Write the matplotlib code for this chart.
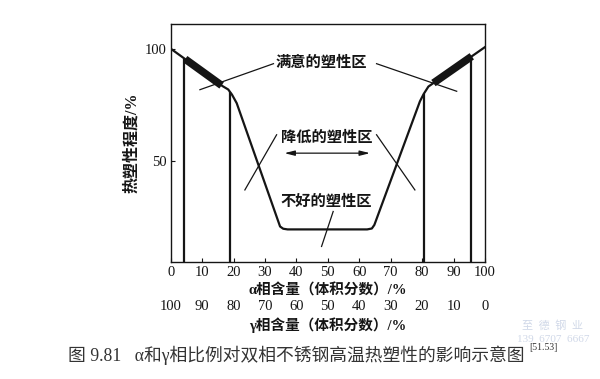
import numpy as np
import matplotlib
matplotlib.use('Agg')
from matplotlib import pyplot as plt

# schematic curve: hot ductility vs. alpha-phase content
curve_x = [0, 16.5, 18.3, 19.5, 21, 34.8, 35.8, 37.2, 62.5, 64.0, 64.8, 79.3, 80.5, 82.0, 100]
curve_y = [100, 83.3, 81.8, 79.5, 75.7, 20.7, 19.7, 19.4, 19.4, 19.8, 21.4, 76.5, 79.8, 83.1, 100.7]

# phase-balance boundaries (vertical lines) and the "satisfactory" bands
boundary_x = [4.35, 18.9, 80.5, 95.4]
good_bands = [(4.6, 16.2), (83.6, 95.8)]

alpha_ticks = [0, 10, 20, 30, 40, 50, 60, 70, 80, 90, 100]
gamma_ticks = [0, 10, 20, 30, 40, 50, 60, 70, 80, 90, 100]

zones = ['满意的塑性区', '降低的塑性区', '不好的塑性区']
zone_xy = [(48, 93.6), (49.6, 60.5), (49.6, 31.8)]
leaders = [
    [(9.3, 81.7), (32.7, 93.3)],
    [(65.5, 93.3), (91.0, 81.0)],
    [(33.7, 61.6), (23.6, 37.0)],
    [(65.5, 61.6), (77.7, 37.0)],
    [(51.7, 27.4), (48.0, 11.8)],
]
arrow_span = (35.3, 64.3, 53.4)

fonts = ['Liberation Serif', 'Noto Sans CJK SC']
plt.rcParams['font.family'] = fonts
ink = '#151515'

fig = plt.figure(figsize=(6.0, 3.79), dpi=100)
ax = fig.add_axes([0.2845, 0.3095, 0.5238, 0.6272])

ax.plot(curve_x, curve_y, color=ink, lw=1.6, solid_joinstyle='round')
tops = np.interp(boundary_x, curve_x, curve_y)
ax.vlines(boundary_x, 0, tops, color=ink, lw=1.6)
for x0, x1 in good_bands:
    bx = [x0, x1]
    ax.plot(bx, np.interp(bx, curve_x, curve_y), color=ink, lw=5.5, solid_capstyle='butt')

for label, (tx, ty) in zip(zones, zone_xy):
    ax.text(tx, ty, label, ha='center', va='center', fontsize=11, fontweight='bold', color=ink)
for seg in leaders:
    (x0, y0), (x1, y1) = seg
    ax.plot([x0, x1], [y0, y1], color=ink, lw=0.9)
ax.annotate('', xy=(arrow_span[1], arrow_span[2]), xytext=(arrow_span[0], arrow_span[2]),
            arrowprops=dict(arrowstyle='<|-|>,head_length=0.6,head_width=0.15', color=ink, lw=0.9))

ax.set_xlim(0, 100)
ax.set_ylim(5, 111)
ax.set_xticks(alpha_ticks)
ax.set_yticks([50, 100])
ax.tick_params(direction='in', length=3, width=0.8, labelsize=10.5, pad=3, colors=ink)
for s in ax.spines.values():
    s.set_linewidth(1.0)
    s.set_color(ink)
ax.set_xlabel('α相含量（体积分数）/%', fontsize=10.5, fontweight='bold', labelpad=3, color=ink)
ax.set_ylabel('热塑性程度/%', fontsize=11.5, fontweight='bold', labelpad=3, color=ink)

sec = ax.secondary_xaxis(-0.149, functions=(lambda x: 100 - x, lambda x: 100 - x))
sec.set_xticks(gamma_ticks)
sec.tick_params(length=0, labelsize=10.5, pad=2, colors=ink)
sec.spines['bottom'].set_visible(False)
sec.set_xlabel('γ相含量（体积分数）/%', fontsize=10.5, fontweight='bold', labelpad=3, color=ink)

fig.text(68 / 600, 1 - 355 / 379, '图 9.81   α和γ相比例对双相不锈钢高温热塑性的影响示意图',
         ha='left', va='center', fontsize=12.8, color='#333333')
fig.text(529 / 600, 1 - 348 / 379, '[51.53]', ha='left', va='center', fontsize=7, color='#333333')

# faint watermark
fig.text(553 / 600, 1 - 326 / 379, '至  德  钢  业', ha='center', va='center', fontsize=8, color='#d0d8e8')
fig.text(553 / 600, 1 - 339 / 379, '139  6707  6667', ha='center', va='center', fontsize=8, color='#d0d8e8')

fig.savefig('out.png', dpi=100)
